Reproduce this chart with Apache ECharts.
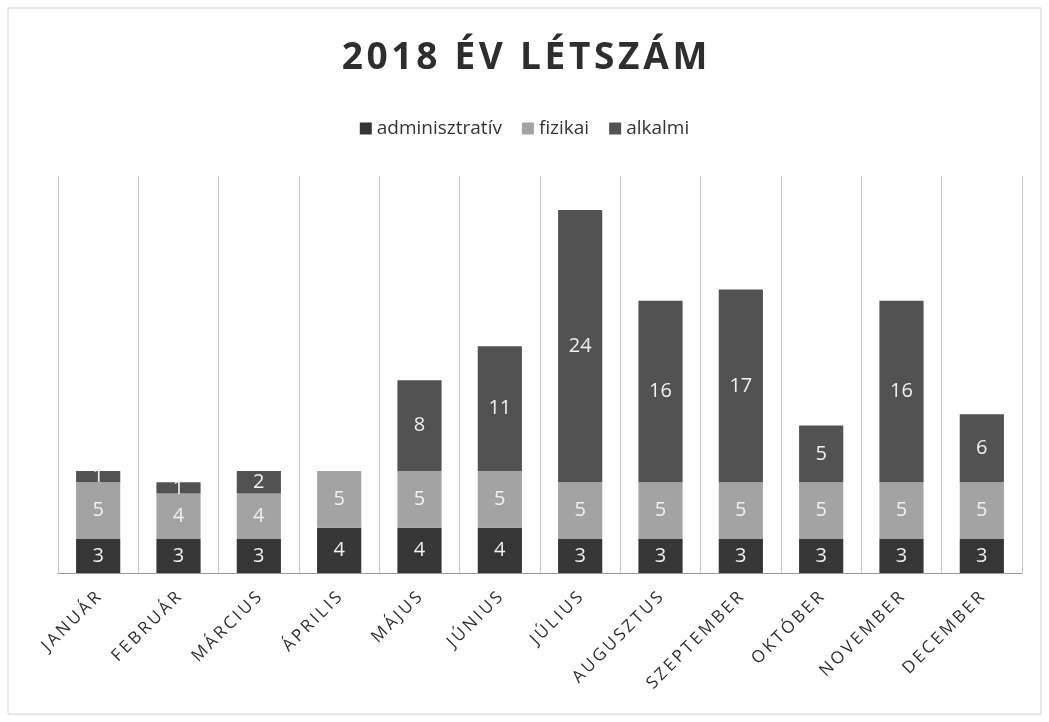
<!DOCTYPE html>
<html><head><meta charset="utf-8">
<script src="https://cdn.jsdelivr.net/npm/echarts@6/dist/echarts.min.js"></script>
<style>html,body{margin:0;padding:0;background:#fff}#c{width:1049px;height:722px}</style>
</head><body><div id="c"></div>
<script>
const months = ['JANUÁR','FEBRUÁR','MÁRCIUS','ÁPRILIS','MÁJUS','JÚNIUS','JÚLIUS','AUGUSZTUS','SZEPTEMBER','OKTÓBER','NOVEMBER','DECEMBER'];
const adminisztrativ = [3,3,3,4,4,4,3,3,3,3,3,3];
const fizikai = [5,4,4,5,5,5,5,5,5,5,5,5];
const alkalmi = [1,1,2,0,8,11,24,16,17,5,16,6];
const seriesNames = ['adminisztratív','fizikai','alkalmi'];
const titleText = '2018 ÉV LÉTSZÁM';
const colors = ['#363636','#a3a3a3','#525252'];

const chart = echarts.init(document.getElementById('c'));
const font = 'Open Sans';
const spaced = (s, sp) => s.split('').join(sp);
function mk(name, data, color){
  return {
    name, type:'bar', stack:'t', data, barCategoryGap:'45%',
    itemStyle:{color},
    label:{show:true, position:'inside', color:'#f0f0f0', fontFamily:font, fontSize:20,
      formatter:p=>p.value===0?'':String(p.value)}
  };
}
chart.setOption({
  animation:false,
  backgroundColor:'#fff',
  title:{text:spaced(titleText,'\u200A'), left:'center', top:35,
    textStyle:{fontFamily:font, fontWeight:'bold', fontSize:37, color:'#2e2e2e'}},
  legend:{top:114, left:'center', itemWidth:12, itemHeight:12, itemGap:20, icon:'rect',
    textStyle:{fontFamily:font, fontSize:19, color:'#333'},
    data:seriesNames},
  grid:{left:58, right:27, top:176, bottom:149},
  xAxis:{type:'category', data:months,
    axisLine:{lineStyle:{color:'#999'}}, axisTick:{show:false},
    splitLine:{show:true, lineStyle:{color:'#c8c8c8', width:1}},
    axisLabel:{rotate:45, fontFamily:font, fontSize:17, color:'#2e2e2e', margin:22, interval:0,
      formatter:v=>spaced(v,'\u2009')}},
  yAxis:{type:'value', min:0, max:35, show:false, splitLine:{show:false}},
  series:[mk(seriesNames[0],adminisztrativ,colors[0]), mk(seriesNames[1],fizikai,colors[1]), mk(seriesNames[2],alkalmi,colors[2])],
  graphic:[{type:'rect', shape:{x:8,y:8,width:1033,height:706}, style:{fill:'none', stroke:'#d0d0d0', lineWidth:1}, silent:true}]
});
</script></body></html>
